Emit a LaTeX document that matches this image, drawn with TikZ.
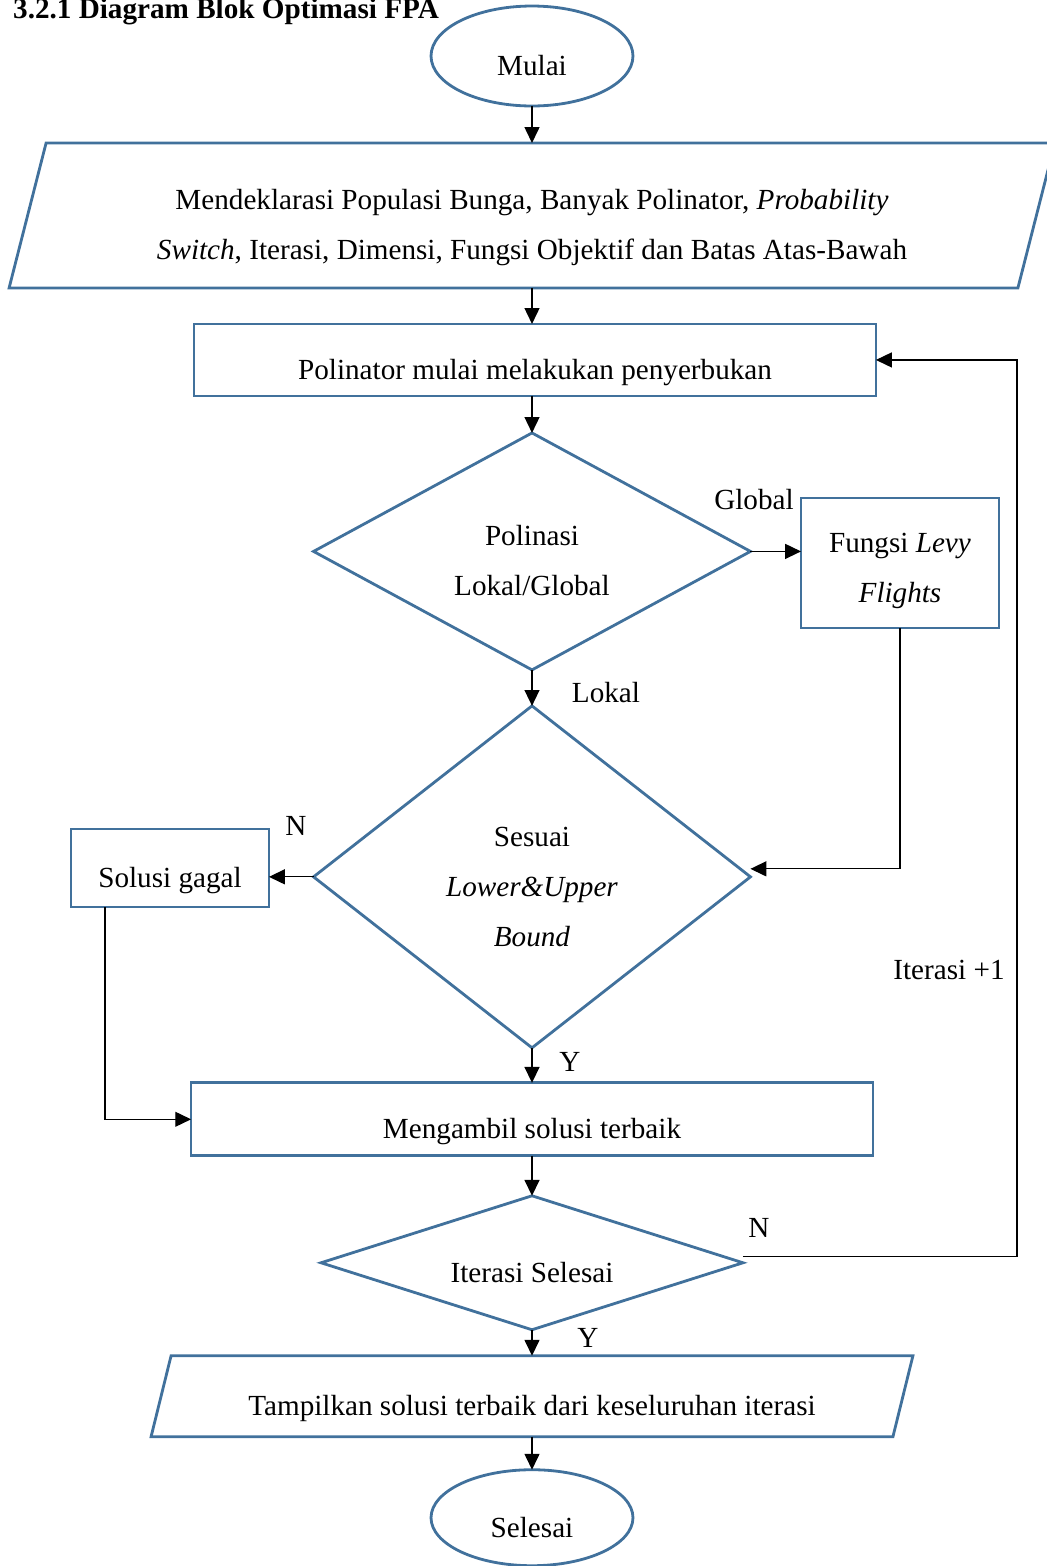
\documentclass[tikz,border=0pt]{standalone}
\usepackage{fontspec}
\setmainfont{Liberation Serif}
\usetikzlibrary{positioning,arrows.meta,shapes.geometric}
\definecolor{flowblue}{HTML}{41719C}

\begin{document}
\begin{tikzpicture}[
    x=0.02cm, y=-0.02cm,
    font=\fontsize{16.6}{28.5}\selectfont,
    outline/.style={draw=flowblue, line width=1.6pt},
    shp/.style={
      outline, align=center, inner sep=0pt, outer sep=0pt,
      text height=22pt, text depth=0pt
    },
    twoline/.style={text height=50.5pt},
    threeline/.style={text height=79pt},
    term/.style={shp, ellipse, minimum width=4.04cm, minimum height=2cm},
    io/.style={shp, rectangle, draw=none},
    proc/.style={shp, rectangle},
    dec/.style={shp, diamond},
    lbl/.style={inner sep=0pt},
    arr/.style={-{Triangle[length=9pt,width=8.5pt]}, line width=0.7pt}
  ]
    \useasboundingbox (0,0) rectangle (1047,1566);
    \node[anchor=base west, font=\fontsize{16.6}{20}\selectfont\bfseries]
      (judul) at (7,18) {3.2.1 Diagram Blok Optimasi FPA};

    \node[term] (mulai) at (532,56) {Mulai};
    \node[io, twoline, below=0.74cm of mulai, minimum width=20.18cm,
      minimum height=2.9cm] (init) {Mendeklarasi Populasi Bunga, Banyak
      Polinator, \textit{Probability}\\\textit{Switch}, Iterasi, Dimensi,
      Fungsi Objektif dan Batas Atas-Bawah};
    \node[proc, below=0.72cm of init, xshift=0.06cm, minimum width=13.64cm,
      minimum height=1.44cm] (polin) {Polinator mulai melakukan penyerbukan};
    \node[dec, twoline, below=0.74cm of polin, xshift=-0.06cm,
      minimum width=8.74cm, minimum height=4.74cm, aspect=1.84] (polinasi)
      {Polinasi\\Lokal/Global};
    \node[proc, twoline, text height=45pt, minimum width=3.96cm,
      minimum height=2.6cm] (levy) at (900,563)
      {Fungsi \textit{Levy}\\\textit{Flights}};
    \node[dec, threeline, below=0.72cm of polinasi, minimum width=8.74cm,
      minimum height=6.84cm, aspect=1.28] (batas)
      {Sesuai\\\textit{Lower\&Upper}\\\textit{Bound}};
    \node[proc, minimum width=3.96cm, minimum height=1.56cm] (gagal)
      at (170,868) {Solusi gagal};
    \node[proc, below=0.7cm of batas, minimum width=13.64cm,
      minimum height=1.46cm] (terbaik) {Mengambil solusi terbaik};
    \node[dec, below=0.8cm of terbaik, minimum width=8.44cm,
      minimum height=2.68cm, aspect=3.15] (cekiter) {Iterasi Selesai};
    \node[io, below=0.52cm of cekiter, minimum width=14.84cm,
      minimum height=1.62cm] (hasil)
      {Tampilkan solusi terbaik dari keseluruhan iterasi};
    \node[term, below=0.66cm of hasil, minimum height=1.92cm] (akhir) {Selesai};
    \coordinate (balik) at (1017,0);

    % jajar genjang input/output
    \draw[outline] ([xshift=0.37cm]init.north west) -- ([xshift=0.37cm]init.north east)
      -- ([xshift=-0.37cm]init.south east) -- ([xshift=-0.37cm]init.south west) -- cycle;
    \draw[outline] ([xshift=0.2cm]hasil.north west) -- ([xshift=0.2cm]hasil.north east)
      -- ([xshift=-0.2cm]hasil.south east) -- ([xshift=-0.2cm]hasil.south west) -- cycle;

    % label cabang
    \node[lbl] (lglobal) at (754,500) {Global};
    \node[lbl] (llokal) at (606,693) {Lokal};
    \node[lbl] (ngagal) at (296,826) {N};
    \node[lbl] (ybatas) at (570,1062) {Y};
    \node[lbl] (niter) at (759,1228) {N};
    \node[lbl] (literasi) at (949,970) {Iterasi +1};
    \node[lbl] (yiter) at (588,1338) {Y};

    \draw[arr] (mulai) -- (init);
    \draw[arr] (init) -- (init |- polin.north);
    \draw[arr] (polinasi |- polin.south) -- (polinasi);
    \draw[arr] (polinasi.east) -- (polinasi.east -| levy.west);
    \draw[arr] (levy.south) |- ([yshift=0.16cm]batas.east);
    \draw[arr] (polinasi) -- (batas);
    \draw[arr] (batas.west) -- (batas.west -| gagal.east);
    \draw[arr] ([xshift=-1.3cm]gagal.south) |- (terbaik.west);
    \draw[arr] (batas) -- (terbaik);
    \draw[arr] (terbaik) -- (cekiter);
    \draw[arr] ([yshift=0.12cm]cekiter.east) -- ([yshift=0.12cm]cekiter.east -| balik)
      |- (polin.east);
    \draw[arr] (cekiter) -- (hasil);
    \draw[arr] (hasil) -- (akhir);
  \end{tikzpicture}
\end{document}
